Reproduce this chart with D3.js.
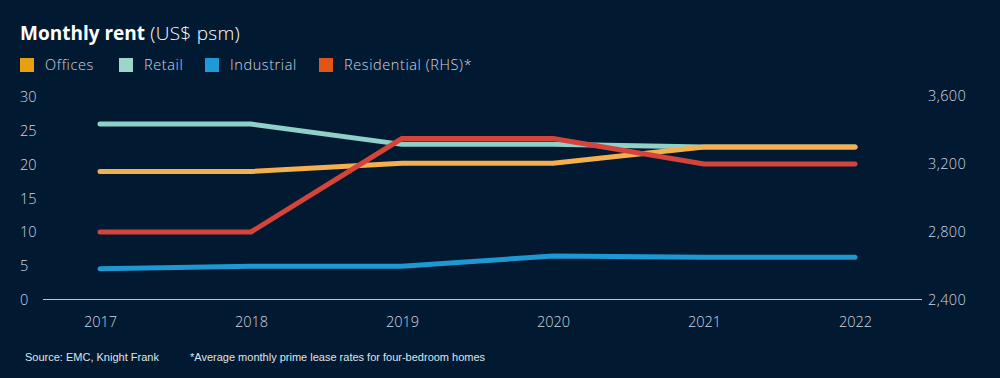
<!DOCTYPE html>
<html><head><meta charset="utf-8">
<script src="https://cdn.jsdelivr.net/npm/d3@7"></script>
<style>
html,body{margin:0;padding:0;background:#021a31;}
svg{display:block;}
</style></head>
<body>
<svg id="c" width="1000" height="378"></svg>
<script>
const years = [2017, 2018, 2019, 2020, 2021, 2022];
const offices = [19, 19, 20.2, 20.2, 22.6, 22.6];
const retail = [26, 26, 23, 23, 22.6, 22.6];
const industrial = [4.6, 5, 5, 6.5, 6.3, 6.3];
const residential = [2800, 2800, 3350, 3350, 3200, 3200];
const leftTicks = [0, 5, 10, 15, 20, 25, 30];
const rightTicks = [2400, 2800, 3200, 3600];
const legendNames = ["Offices", "Retail", "Industrial", "Residential (RHS)*"];

const bg = "#021a31";
const txt = "#cdd6e0";
const font = "'Open Sans', 'Noto Sans', sans-serif";

const svg = d3.select("#c");
svg.append("rect").attr("width", 1000).attr("height", 378).attr("fill", bg);

const x = d3.scaleLinear().domain([2017, 2022]).range([100, 855]);
const yL = d3.scaleLinear().domain([0, 30]).range([300, 97]);
const yR = d3.scaleLinear().domain([2400, 3600]).range([300, 96]);

// title
const t = svg.append("text").attr("x", 20).attr("y", 40).attr("font-family", font).attr("font-size", 19).attr("fill", "#ffffff");
t.append("tspan").attr("font-weight", 700).text("Monthly rent");
t.append("tspan").attr("font-weight", 300).attr("letter-spacing", 0.3).text(" (US$ psm)");

// legend
const legendSquare = ["#e89f12", "#9dd5cb", "#1f9ad8", "#e0561a"];
const legendX = [20, 119, 205, 319];
const lg = svg.append("g");
legendNames.forEach((n, i) => {
  lg.append("rect").attr("x", legendX[i]).attr("y", 58).attr("width", 14).attr("height", 14).attr("fill", legendSquare[i]);
  lg.append("text").attr("x", legendX[i] + 25).attr("y", 70).attr("font-family", font).attr("font-weight", 300)
    .attr("font-size", 14.5).attr("letter-spacing", 0.6).attr("fill", txt).text(n);
});

// left axis
const axL = svg.append("g").attr("transform", "translate(20,0)")
  .call(d3.axisLeft(yL).tickValues(leftTicks).tickSize(0).tickPadding(0).tickFormat(d3.format("d")));
axL.select(".domain").remove();
axL.selectAll("text").attr("text-anchor", "start").attr("x", 0).attr("font-family", font).attr("font-weight", 300)
  .attr("font-size", 14.5).attr("fill", txt);

// right axis
const axR = svg.append("g").attr("transform", "translate(928,0)")
  .call(d3.axisRight(yR).tickValues(rightTicks).tickSize(0).tickPadding(0).tickFormat(d3.format(",")));
axR.select(".domain").remove();
axR.selectAll("text").attr("font-family", font).attr("font-weight", 300).attr("font-size", 14.5).attr("letter-spacing", 0.4).attr("fill", txt);

// bottom axis
const axB = svg.append("g").attr("transform", "translate(0,300)")
  .call(d3.axisBottom(x).tickValues(years).tickSize(0).tickPadding(17).tickFormat(d3.format("d")));
axB.select(".domain").remove();
axB.selectAll("text").attr("font-family", font).attr("font-weight", 300).attr("font-size", 14.5).attr("fill", txt);
svg.append("line").attr("x1", 43).attr("x2", 922).attr("y1", 299.5).attr("y2", 299.5)
  .attr("stroke", "#b9c6d4").attr("stroke-width", 1.2);

// lines
const series = [
  {v: retail, c: "#8fd0c8", s: yL},
  {v: offices, c: "#f4b04f", s: yL},
  {v: industrial, c: "#1f97d3", s: yL},
  {v: residential, c: "#d5443a", s: yR}
];
series.forEach(se => {
  const line = d3.line().x((d, i) => x(years[i])).y(d => se.s(d));
  svg.append("path").datum(se.v).attr("d", line).attr("fill", "none").attr("stroke", se.c)
    .attr("stroke-width", 5).attr("stroke-linecap", "round").attr("stroke-linejoin", "round");
});

// footnotes
const fn = "'Liberation Sans Narrow', 'Liberation Sans', Arial, sans-serif";
svg.append("text").attr("x", 25).attr("y", 361).attr("font-family", fn).attr("font-size", 11).attr("fill", "#dfe5ec")
  .text("Source: EMC, Knight Frank");
svg.append("text").attr("x", 190).attr("y", 361).attr("font-family", fn).attr("font-size", 11).attr("fill", "#dfe5ec")
  .text("*Average monthly prime lease rates for four-bedroom homes");
</script>
</body></html>
